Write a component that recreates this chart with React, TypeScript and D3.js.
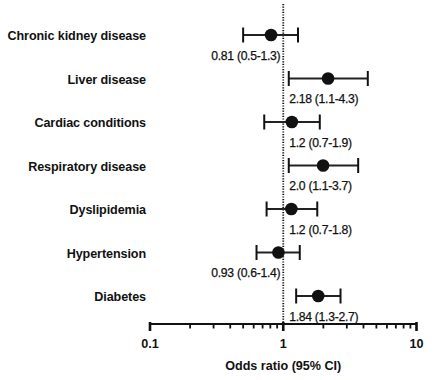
import React from "react";
import * as d3 from "d3";

const categories = [
  "Chronic kidney disease",
  "Liver disease",
  "Cardiac conditions",
  "Respiratory disease",
  "Dyslipidemia",
  "Hypertension",
  "Diabetes",
];
const oddsRatio = [0.81, 2.17, 1.16, 1.99, 1.15, 0.92, 1.83];
const ciLow = [0.5, 1.1, 0.72, 1.1, 0.75, 0.63, 1.25];
const ciHigh = [1.29, 4.31, 1.88, 3.65, 1.8, 1.33, 2.69];
const valueLabels = [
  "0.81 (0.5-1.3)",
  "2.18 (1.1-4.3)",
  "1.2 (0.7-1.9)",
  "2.0 (1.1-3.7)",
  "1.2 (0.7-1.8)",
  "0.93 (0.6-1.4)",
  "1.84 (1.3-2.7)",
];
const majorTicks = [0.1, 1, 10];
const majorTickLabels = ["0.1", "1", "10"];
const minorTicks = [0.2, 0.3, 0.4, 0.5, 0.6, 0.7, 0.8, 0.9, 2, 3, 4, 5, 6, 7, 8, 9];
const xTitle = "Odds ratio (95% CI)";

const W = 444;
const H = 380;
const FONT = "'Liberation Sans', Arial, Helvetica, sans-serif";

export default function App() {
  const x = d3.scaleLog().domain([0.1, 10]).range([150, 416.5]);
  const y = d3.scalePoint<string>().domain(categories).range([35, 296]);
  const axisY = 324;
  const x1 = x(1);

  return (
    <svg
      width={W}
      height={H}
      style={{ position: "absolute", left: 0, top: 0, background: "#fff" }}
      fontFamily={FONT}
    >
      {/* reference line */}
      <line
        x1={x1}
        x2={x1}
        y1={4}
        y2={axisY}
        stroke="#111"
        strokeWidth={1.8}
        strokeDasharray="1.2,1.4"
      />
      {categories.map((c, i) => {
        const cy = y(c)!;
        const lo = x(ciLow[i]);
        const hi = x(ciHigh[i]);
        const px = x(oddsRatio[i]);
        const below = oddsRatio[i] < 1;
        return (
          <g key={c}>
            <text
              x={146}
              y={cy + 5}
              textAnchor="end"
              fontSize={12.6}
              fontWeight="bold"
              fill="#111"
              letterSpacing={-0.1}
            >
              {c}
            </text>
            <line x1={lo} x2={hi} y1={cy} y2={cy} stroke="#222" strokeWidth={2} />
            <line x1={lo} x2={lo} y1={cy - 7.5} y2={cy + 7.5} stroke="#111" strokeWidth={2} />
            <line x1={hi} x2={hi} y1={cy - 7.5} y2={cy + 7.5} stroke="#111" strokeWidth={2} />
            <circle cx={px} cy={cy} r={6.3} fill="#111" />
            <text
              x={below ? x1 - 3 : x1 + 6}
              y={cy + 24.5}
              textAnchor={below ? "end" : "start"}
              fontSize={12.2}
              letterSpacing={-0.3}
              fill="#111"
              stroke="#111"
              strokeWidth={0.25}
            >
              {valueLabels[i]}
            </text>
          </g>
        );
      })}
      {/* axis */}
      <line x1={x(0.1)} x2={x(10)} y1={axisY} y2={axisY} stroke="#111" strokeWidth={2} />
      {minorTicks.map((t) => (
        <line
          key={"m" + t}
          x1={x(t)}
          x2={x(t)}
          y1={axisY}
          y2={axisY + 4.5}
          stroke="#111"
          strokeWidth={1.8}
        />
      ))}
      {majorTicks.map((t, i) => (
        <g key={"M" + t}>
          <line
            x1={x(t)}
            x2={x(t)}
            y1={axisY - 2}
            y2={axisY + 7}
            stroke="#111"
            strokeWidth={2.6}
          />
          <text
            x={x(t)}
            y={348}
            textAnchor="middle"
            fontSize={12.6}
            fontWeight="bold"
            fill="#111"
          >
            {majorTickLabels[i]}
          </text>
        </g>
      ))}
      <text
        x={x1}
        y={370}
        textAnchor="middle"
        fontSize={12.6}
        fontWeight="bold"
        fill="#111"
      >
        {xTitle}
      </text>
    </svg>
  );
}
